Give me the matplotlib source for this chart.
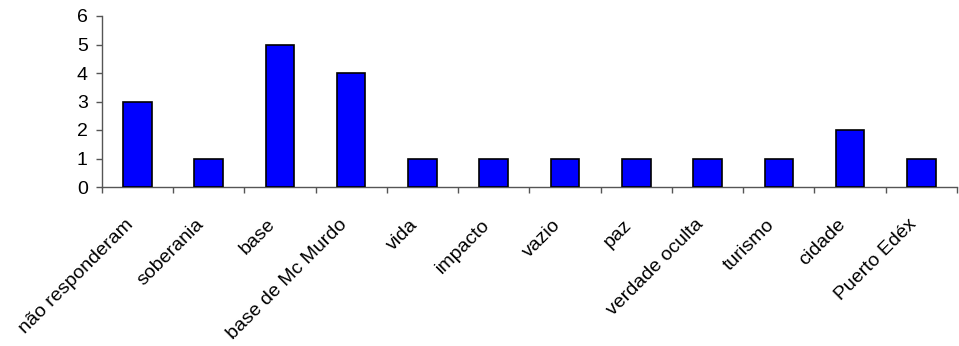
import matplotlib
matplotlib.use("Agg")
import matplotlib.pyplot as plt
import matplotlib.transforms as mtransforms
import numpy as np

categories = ["não responderam", "soberania", "base", "base de Mc Murdo", "vida",
              "impacto", "vazio", "paz", "verdade oculta", "turismo", "cidade",
              "Puerto Edéx"]
values = [3, 1, 5, 4, 1, 1, 1, 1, 1, 1, 2, 1]

plt.rcParams["font.family"] = ["Liberation Sans", "DejaVu Sans"]

W, H = 959, 346
fig = plt.figure(figsize=(W / 100, H / 100), dpi=100)
ax = fig.add_axes([101.7 / W, 1 - 187 / H, (957 - 101.7) / W, (187 - 16) / H])

x = np.arange(len(categories))
ax.bar(x, values, width=0.4, color="#0000FF", edgecolor="black", linewidth=1.2, zorder=3)

ax.set_xlim(-0.5, len(categories) - 0.5)
ax.set_ylim(0, 6)
ax.set_yticks(range(0, 7))
ax.tick_params(axis="y", direction="out", length=4, width=1, labelsize=14, pad=6, color="#555555")

ax.set_xticks(x)
ax.set_xticklabels(categories, rotation=45, ha="right", rotation_mode="anchor", fontsize=14)
ax.tick_params(axis="x", which="major", length=0, pad=21)
ax.set_xticks(np.arange(-0.5, len(categories)), minor=True)
ax.tick_params(axis="x", which="minor", direction="out", length=4.5, width=1, color="#555555")

# nudge the slanted category labels a little to the left of each bar centre
shift = mtransforms.ScaledTranslation(-13 / 100, 0, fig.dpi_scale_trans)
for lab in ax.get_xticklabels():
    lab.set_transform(lab.get_transform() + shift)

for side in ("top", "right"):
    ax.spines[side].set_visible(False)
for side in ("left", "bottom"):
    ax.spines[side].set_color("#555555")
    ax.spines[side].set_linewidth(1)

fig.savefig("out.png", dpi=100)
